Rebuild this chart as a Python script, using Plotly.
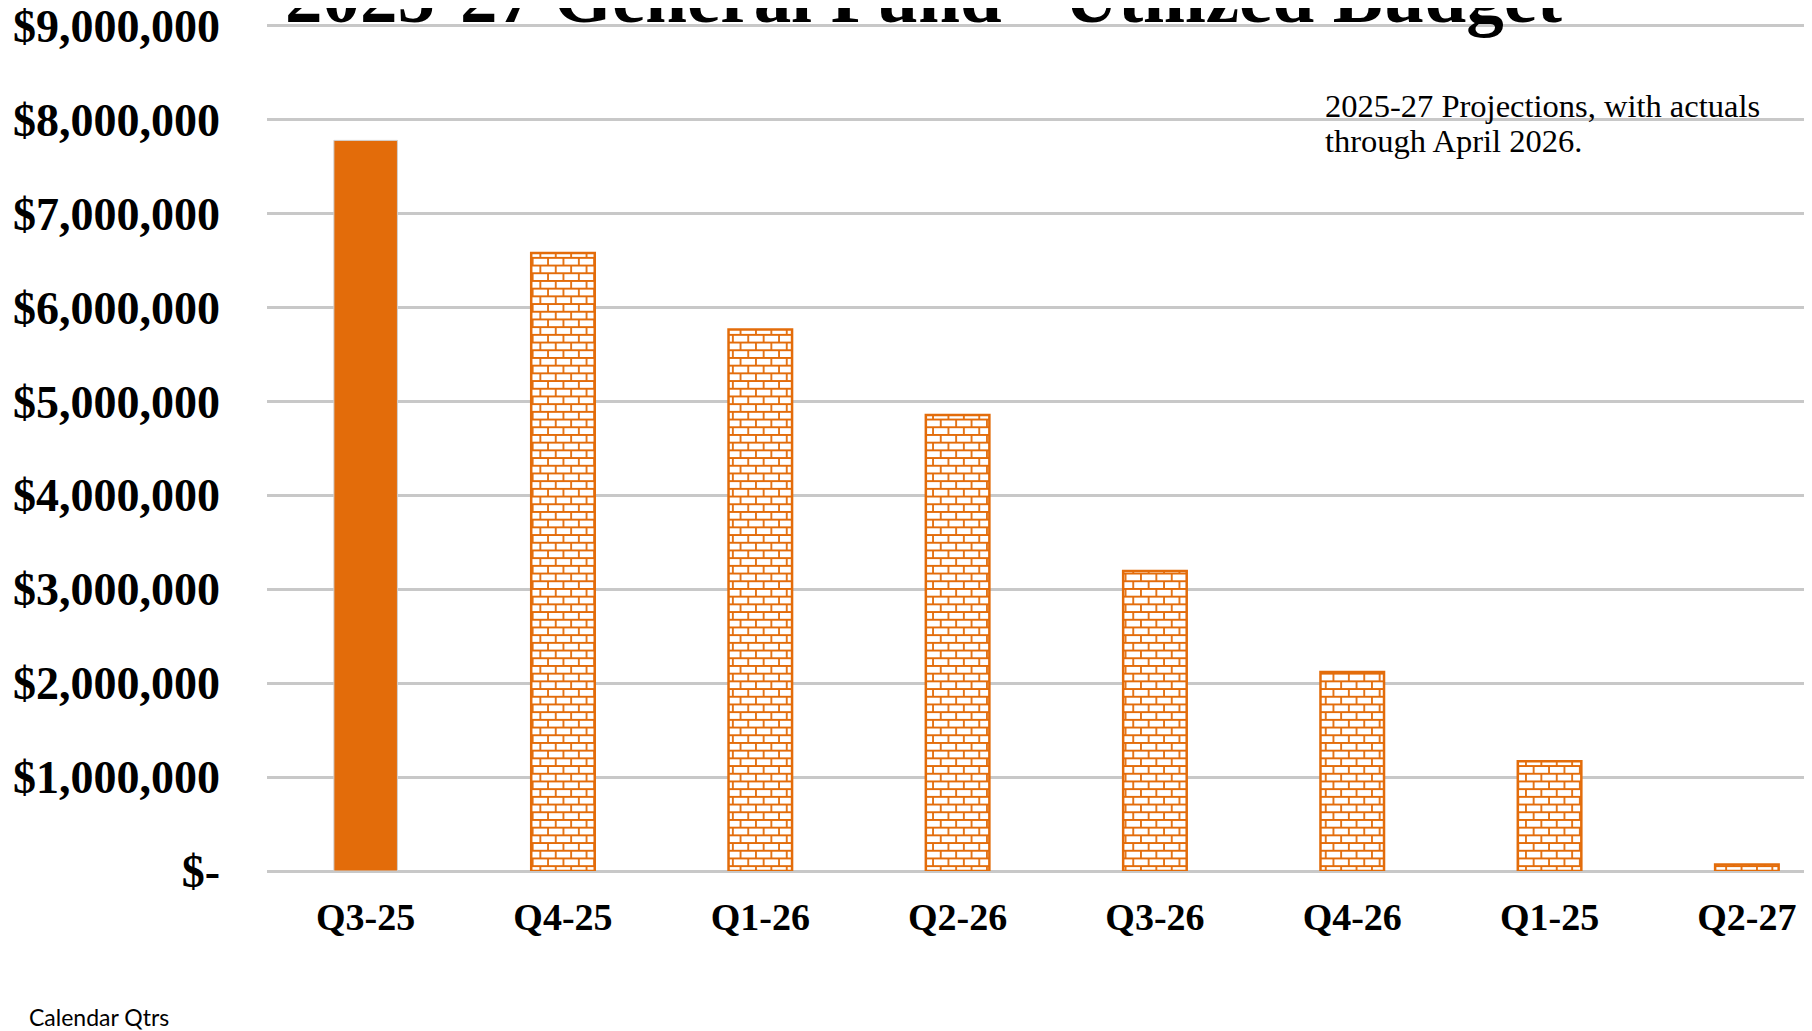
import plotly.graph_objects as go

# ---------------- data ----------------
quarters = ["Q3-25", "Q4-25", "Q1-26", "Q2-26", "Q3-26", "Q4-26", "Q1-25", "Q2-27"]
budget = [7780000, 6580000, 5765000, 4855000, 3195000, 2120000, 1170000, 70000]
is_actual = [True, False, False, False, False, False, False, False]
ytick_vals = [0, 1000000, 2000000, 3000000, 4000000, 5000000, 6000000, 7000000, 8000000, 9000000]
ytick_text = ["$-" if v == 0 else "${:,.0f}".format(v) for v in ytick_vals]

title_text = "2025-27 General Fund - Utilized Budget"
note_lines = ["2025-27 Projections, with actuals", "through April 2026."]
xlabel_text = "Calendar Qtrs"

# ---------------- layout geometry (page pixels) ----------------
OFF = 8                      # default body margin of the html page
W, H = 1812 - OFF, 1031 - OFF
Y_TOP = 9030000
PX_PER_UNIT = (871 - 26) / 9000000
PLOT_L, PLOT_R, PLOT_B = 267, 1812, 871
PLOT_T = PLOT_B - Y_TOP * PX_PER_UNIT
ML, MR, MT, MB = PLOT_L - OFF, 0, PLOT_T - OFF, 1031 - PLOT_B
PW, PH = PLOT_R - PLOT_L, PLOT_B - PLOT_T

def px(x):
    return (x - PLOT_L) / PW

def py(y):
    return (PLOT_B - y) / PH

ORANGE = "#E36C0A"
SERIF = "Liberation Serif"

act_x = [q for q, a in zip(quarters, is_actual) if a]
act_y = [v for v, a in zip(budget, is_actual) if a]
prj_x = [q for q, a in zip(quarters, is_actual) if not a]
prj_y = [v for v, a in zip(budget, is_actual) if not a]

# brick tile: two brick rows, mortar lines ~1.8px
S = 15.4
m = 1.8
def rect(x0, y0, x1, y1):
    return "M{:.2f},{:.2f}H{:.2f}V{:.2f}H{:.2f}Z".format(x0, y0, x1, y1, x0)
q1, q3 = S / 4, 3 * S / 4
brick = " ".join([
    rect(0, q1 - m / 2, S, q1 + m / 2),
    rect(0, q3 - m / 2, S, q3 + m / 2),
    rect(q1 - m / 2, q1 + m / 2, q1 + m / 2, q3 - m / 2),
    rect(q3 - m / 2, q3 + m / 2, q3 + m / 2, S),
    rect(q3 - m / 2, 0, q3 + m / 2, q1 - m / 2),
])

fig = go.Figure()
fig.add_trace(go.Bar(
    x=act_x, y=act_y, width=0.322,
    marker=dict(color=ORANGE, line=dict(color="#d0d0d0", width=1)),
    hoverinfo="x+y", showlegend=False,
))
fig.add_trace(go.Bar(
    x=prj_x, y=prj_y, width=0.322,
    marker=dict(
        color="white",
        line=dict(color=ORANGE, width=2.5),
        pattern=dict(path=brick, size=S, fgcolor=ORANGE, bgcolor="white",
                     fgopacity=1, fillmode="replace"),
    ),
    hoverinfo="x+y", showlegend=False,
))

fig.update_layout(
    width=W, height=H,
    margin=dict(l=ML, r=MR, t=MT, b=MB, autoexpand=False),
    paper_bgcolor="white", plot_bgcolor="white",
    barmode="overlay",
    xaxis=dict(
        type="category", categoryorder="array", categoryarray=quarters,
        range=[-0.5, 7.33], automargin=False,
        showgrid=False, showline=False, zeroline=False,
        ticks="", ticklabelstandoff=20,
        tickfont=dict(family=SERIF, size=38, color="black", weight="bold"),
    ),
    yaxis=dict(
        range=[0, Y_TOP], automargin=False,
        tickvals=ytick_vals, ticktext=ytick_text,
        showgrid=True, gridcolor="#c8c8c8", gridwidth=2.5,
        zeroline=True, zerolinecolor="#c8c8c8", zerolinewidth=2.5,
        showline=False, ticks="", ticklabelstandoff=46,
        ticklabeloverflow="allow",
        tickfont=dict(family=SERIF, size=46, color="black", weight="bold"),
    ),
    annotations=[
        dict(text=title_text, xref="paper", yref="paper", x=px(283), y=py(22),
             xanchor="left", yanchor="bottom", showarrow=False, yshift=-18,
             font=dict(family=SERIF, size=75, color="black", weight="bold")),
        dict(text=note_lines[0], xref="paper", yref="paper", x=px(1323), y=py(106),
             xanchor="left", yanchor="middle", align="left", showarrow=False,
             font=dict(family=SERIF, size=32.5, color="black")),
        dict(text=note_lines[1], xref="paper", yref="paper", x=px(1323), y=py(141),
             xanchor="left", yanchor="middle", align="left", showarrow=False,
             font=dict(family=SERIF, size=32.5, color="black")),
        dict(text=xlabel_text, xref="paper", yref="paper", x=px(27), y=py(1017),
             xanchor="left", yanchor="middle", showarrow=False,
             font=dict(family="Lato", size=23, color="black")),
    ],
    shapes=[
        dict(type="line", xref="paper", yref="paper", x0=px(2), x1=px(2),
             y0=py(1031), y1=py(0), line=dict(color="#c0c0c0", width=1.5)),
    ],
)

fig.write_html("out.html")
